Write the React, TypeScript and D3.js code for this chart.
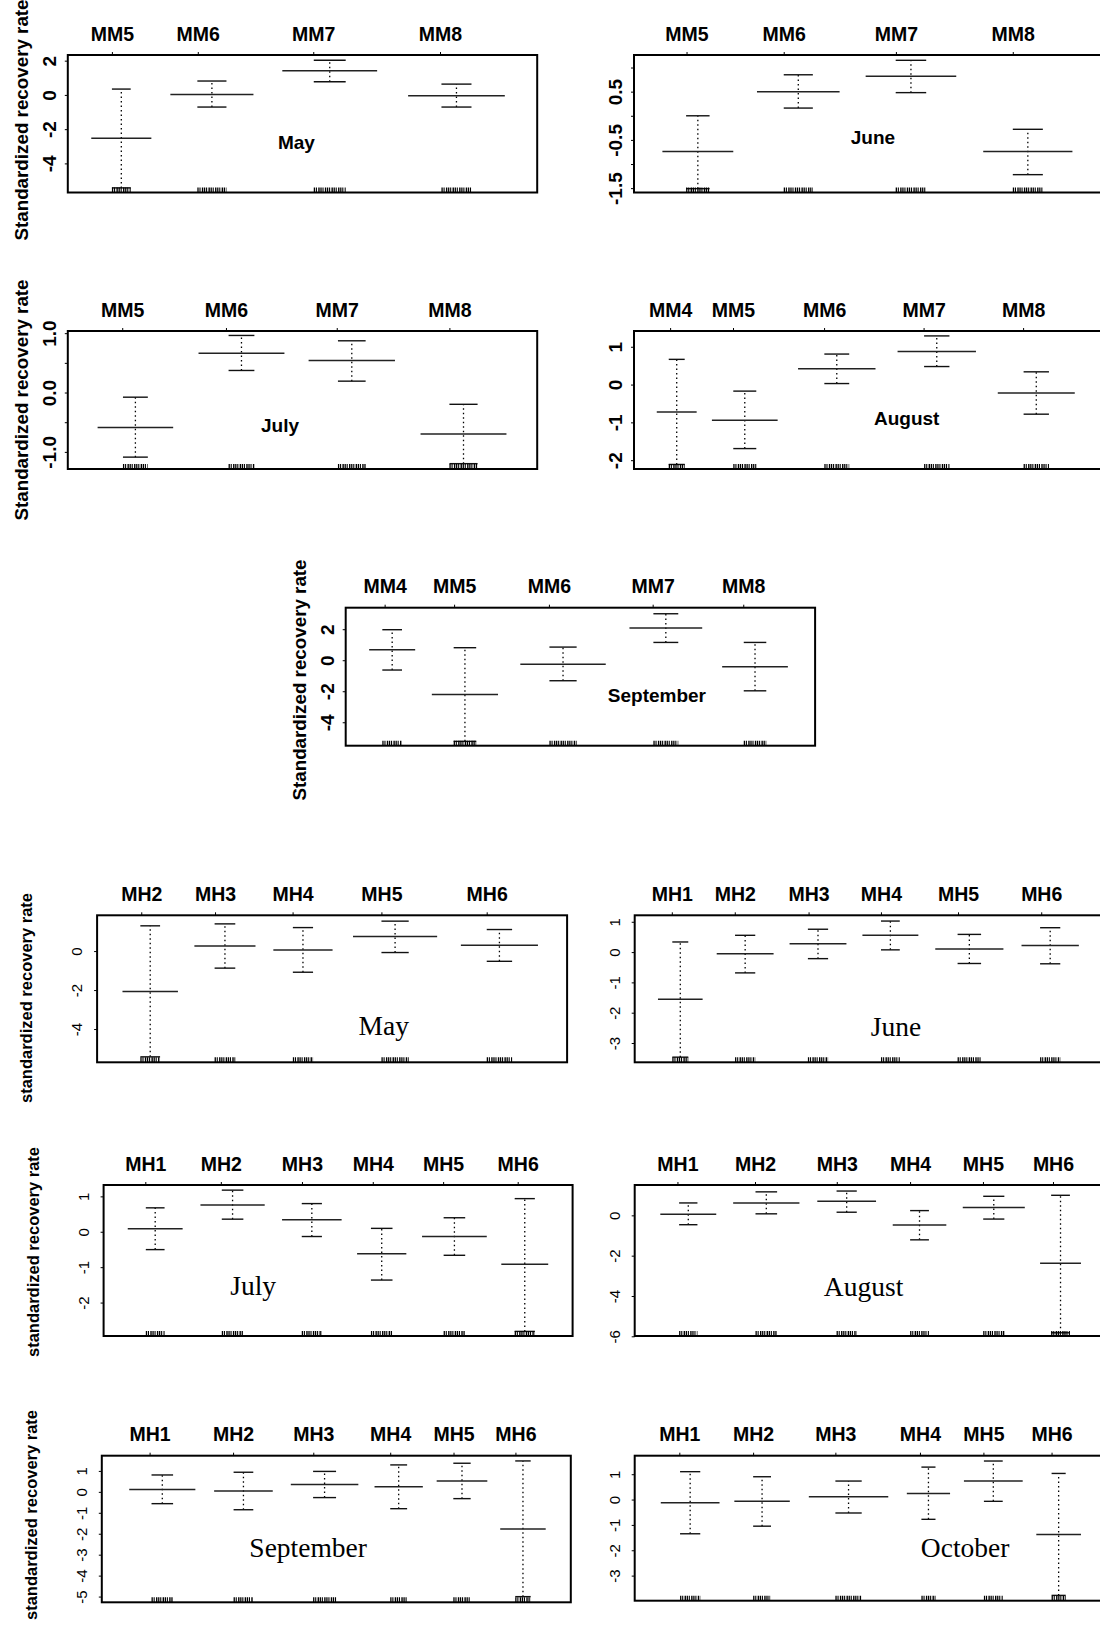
import React from "react";
import * as d3 from "d3";

// ---------- MM series ----------
const mmMayCats = ["MM5", "MM6", "MM7", "MM8"];
const mmMayTick = [9.5, 27.8, 52.4, 79.4];
const mmMayCenter = [11.4, 30.7, 55.8, 82.8];
const mmMayCap = [4.0, 6.2, 6.8, 6.4];
const mmMayMedW = [12.8, 17.7, 20.2, 20.6];
const mmMayLow = [-5.4, -0.68, 0.8, -0.68];
const mmMayMid = [-2.5, 0.06, 1.44, -0.02];
const mmMayHigh = [0.37, 0.84, 2.05, 0.66];
const mmMayDomain = [-5.67, 2.36];
const mmMayTicks = [-4, -2, 0, 2];
const mmMayLabels = [-4, -2, 0, 2];

const mmJunCats = ["MM5", "MM6", "MM7", "MM8"];
const mmJunTick = [11.3, 32.0, 55.9, 80.8];
const mmJunCenter = [13.6, 35.0, 59.0, 83.9];
const mmJunCap = [5.0, 6.2, 6.5, 6.4];
const mmJunMedW = [15.1, 17.6, 19.3, 19.0];
const mmJunLow = [-1.5, 0.17, 0.49, -1.21];
const mmJunMid = [-0.73, 0.51, 0.83, -0.73];
const mmJunHigh = [0.01, 0.86, 1.16, -0.27];
const mmJunDomain = [-1.58, 1.27];
const mmJunTicks = [-1.5, -1, -0.5, 0, 0.5, 1];
const mmJunLabels = [-1.5, -0.5, 0.5];

const mmJulCats = ["MM5", "MM6", "MM7", "MM8"];
const mmJulTick = [11.7, 33.8, 57.4, 81.4];
const mmJulCenter = [14.4, 37.0, 60.5, 84.3];
const mmJulCap = [5.3, 5.5, 5.9, 6.0];
const mmJulMedW = [16.1, 18.3, 18.4, 18.3];
const mmJulLow = [-1.08, 0.38, 0.2, -1.19];
const mmJulMid = [-0.58, 0.67, 0.55, -0.69];
const mmJulHigh = [-0.07, 0.97, 0.88, -0.19];
const mmJulDomain = [-1.28, 1.045];
const mmJulTicks = [-1, -0.5, 0, 0.5, 1];
const mmJulLabels = [-1, 0, 1];

const mmAugCats = ["MM4", "MM5", "MM6", "MM7", "MM8"];
const mmAugTick = [7.8, 21.2, 40.6, 61.8, 83.0];
const mmAugCenter = [9.1, 23.6, 43.2, 64.5, 85.7];
const mmAugCap = [3.4, 4.9, 5.3, 5.4, 5.4];
const mmAugMedW = [8.5, 14.0, 16.5, 16.7, 16.4];
const mmAugLow = [-2.1, -1.68, 0.04, 0.49, -0.77];
const mmAugMid = [-0.71, -0.93, 0.43, 0.89, -0.21];
const mmAugHigh = [0.68, -0.16, 0.82, 1.3, 0.35];
const mmAugDomain = [-2.22, 1.43];
const mmAugTicks = [-2, -1, 0, 1];
const mmAugLabels = [-2, -1, 0, 1];

const mmSepCats = ["MM4", "MM5", "MM6", "MM7", "MM8"];
const mmSepTick = [8.4, 23.2, 43.4, 65.5, 84.8];
const mmSepCenter = [9.9, 25.4, 46.3, 68.2, 87.2];
const mmSepCap = [4.2, 4.8, 5.8, 5.3, 4.8];
const mmSepMedW = [9.8, 14.1, 18.2, 15.5, 14.0];
const mmSepLow = [-0.6, -5.2, -1.29, 1.18, -1.94];
const mmSepMid = [0.71, -2.17, -0.22, 2.11, -0.39];
const mmSepHigh = [2.0, 0.84, 0.88, 3.03, 1.18];
const mmSepDomain = [-5.48, 3.42];
const mmSepTicks = [-4, -2, 0, 2];
const mmSepLabels = [-4, -2, 0, 2];

// ---------- MH series ----------
const mhMayCats = ["MH2", "MH3", "MH4", "MH5", "MH6"];
const mhMayTick = [9.5, 25.2, 41.7, 60.6, 83.0];
const mhMayCenter = [11.3, 27.2, 43.8, 63.4, 85.6];
const mhMayCap = [4.2, 4.4, 4.3, 5.8, 5.4];
const mhMayMedW = [11.8, 13.0, 12.6, 17.9, 16.4];
const mhMayLow = [-5.4, -0.85, -1.06, -0.05, -0.5];
const mhMayMid = [-2.05, 0.29, 0.085, 0.77, 0.32];
const mhMayHigh = [1.32, 1.42, 1.23, 1.56, 1.13];
const mhMayDomain = [-5.68, 1.86];
const mhMayTicks = [-4, -2, 0];
const mhMayLabels = [-4, -2, 0];

const mhJunCats = ["MH1", "MH2", "MH3", "MH4", "MH5", "MH6"];
const mhJunTick = [8.0, 21.4, 37.1, 52.5, 68.9, 86.6];
const mhJunCenter = [9.7, 23.5, 39.0, 54.4, 71.2, 88.4];
const mhJunCap = [3.4, 4.3, 4.3, 4.0, 5.0, 4.3];
const mhJunMedW = [9.5, 12.1, 12.1, 11.9, 14.5, 12.2];
const mhJunLow = [-3.45, -0.67, -0.2, 0.09, -0.36, -0.37];
const mhJunMid = [-1.54, -0.04, 0.29, 0.57, 0.12, 0.23];
const mhJunHigh = [0.35, 0.57, 0.77, 1.04, 0.6, 0.82];
const mhJunDomain = [-3.62, 1.23];
const mhJunTicks = [-3, -2, -1, 0, 1];
const mhJunLabels = [-3, -2, -1, 0, 1];

const mhJulCats = ["MH1", "MH2", "MH3", "MH4", "MH5", "MH6"];
const mhJulTick = [9.0, 25.1, 42.4, 57.5, 72.5, 88.4];
const mhJulCenter = [11.0, 27.5, 44.4, 59.3, 74.8, 89.8];
const mhJulCap = [4.0, 4.6, 4.3, 4.6, 4.6, 4.3];
const mhJulMedW = [11.7, 13.7, 12.7, 10.5, 13.8, 10.0];
const mhJulLow = [-0.49, 0.37, -0.12, -1.35, -0.65, -2.8];
const mhJulMid = [0.1, 0.77, 0.35, -0.61, -0.12, -0.9];
const mhJulHigh = [0.69, 1.19, 0.81, 0.11, 0.41, 0.95];
const mhJulDomain = [-2.93, 1.335];
const mhJulTicks = [-2, -1, 0, 1];
const mhJulLabels = [-2, -1, 0, 1];

const mhAugCats = ["MH1", "MH2", "MH3", "MH4", "MH5", "MH6"];
const mhAugTick = [9.2, 25.7, 43.1, 58.7, 74.2, 89.1];
const mhAugCenter = [11.4, 28.0, 45.1, 60.6, 76.4, 90.6];
const mhAugCap = [3.9, 4.6, 4.3, 4.0, 4.5, 4.0];
const mhAugMedW = [11.9, 14.1, 12.5, 11.4, 13.2, 8.7];
const mhAugLow = [-0.44, 0.1, 0.18, -1.19, -0.16, -5.8];
const mhAugMid = [0.08, 0.64, 0.72, -0.46, 0.41, -2.35];
const mhAugHigh = [0.64, 1.19, 1.23, 0.26, 0.97, 1.02];
const mhAugDomain = [-5.96, 1.53];
const mhAugTicks = [-6, -4, -2, 0];
const mhAugLabels = [-6, -4, -2, 0];

const mhSepCats = ["MH1", "MH2", "MH3", "MH4", "MH5", "MH6"];
const mhSepTick = [10.3, 28.1, 45.2, 61.6, 75.1, 88.3];
const mhSepCenter = [12.9, 30.2, 47.5, 63.3, 76.8, 89.8];
const mhSepCap = [4.6, 4.2, 4.9, 3.6, 3.7, 3.3];
const mhSepMedW = [14.1, 12.5, 14.4, 10.3, 10.8, 9.7];
const mhSepLow = [-0.54, -0.83, -0.25, -0.78, -0.3, -4.98];
const mhSepMid = [0.14, 0.06, 0.37, 0.27, 0.54, -1.75];
const mhSepHigh = [0.83, 0.96, 1.0, 1.31, 1.39, 1.5];
const mhSepDomain = [-5.25, 1.75];
const mhSepTicks = [-5, -4, -3, -2, -1, 0, 1];
const mhSepLabels = [-5, -4, -3, -2, -1, 0, 1];

const mhOctCats = ["MH1", "MH2", "MH3", "MH4", "MH5", "MH6"];
const mhOctTick = [9.6, 25.3, 42.8, 60.8, 74.3, 88.8];
const mhOctCenter = [11.8, 27.1, 45.5, 62.5, 76.3, 90.2];
const mhOctCap = [4.3, 3.8, 5.6, 3.0, 4.0, 3.0];
const mhOctMedW = [12.5, 11.8, 16.9, 9.2, 12.5, 9.5];
const mhOctLow = [-1.33, -1.03, -0.51, -0.76, -0.05, -3.76];
const mhOctMid = [-0.11, -0.05, 0.13, 0.26, 0.75, -1.36];
const mhOctHigh = [1.12, 0.92, 0.75, 1.3, 1.54, 1.05];
const mhOctDomain = [-3.97, 1.75];
const mhOctTicks = [-3, -2, -1, 0, 1];
const mhOctLabels = [-3, -2, -1, 0, 1];

const SANS = "'Liberation Sans', Arial, Helvetica, sans-serif";
const SERIF = "'Liberation Serif', 'Times New Roman', Times, serif";

type PanelData = {
  kind: "MM" | "MH";
  month: string;
  cats: string[];
  tick: number[];
  center: number[];
  cap: number[];
  medW: number[];
  low: number[];
  mid: number[];
  high: number[];
  domain: number[];
  ticks: number[];
  labels: number[];
  fmt: string;
};

const panels: PanelData[] = [
  { kind: "MM", month: "May", cats: mmMayCats, tick: mmMayTick, center: mmMayCenter, cap: mmMayCap, medW: mmMayMedW, low: mmMayLow, mid: mmMayMid, high: mmMayHigh, domain: mmMayDomain, ticks: mmMayTicks, labels: mmMayLabels, fmt: "d" },
  { kind: "MM", month: "June", cats: mmJunCats, tick: mmJunTick, center: mmJunCenter, cap: mmJunCap, medW: mmJunMedW, low: mmJunLow, mid: mmJunMid, high: mmJunHigh, domain: mmJunDomain, ticks: mmJunTicks, labels: mmJunLabels, fmt: ".1f" },
  { kind: "MM", month: "July", cats: mmJulCats, tick: mmJulTick, center: mmJulCenter, cap: mmJulCap, medW: mmJulMedW, low: mmJulLow, mid: mmJulMid, high: mmJulHigh, domain: mmJulDomain, ticks: mmJulTicks, labels: mmJulLabels, fmt: ".1f" },
  { kind: "MM", month: "August", cats: mmAugCats, tick: mmAugTick, center: mmAugCenter, cap: mmAugCap, medW: mmAugMedW, low: mmAugLow, mid: mmAugMid, high: mmAugHigh, domain: mmAugDomain, ticks: mmAugTicks, labels: mmAugLabels, fmt: "d" },
  { kind: "MM", month: "September", cats: mmSepCats, tick: mmSepTick, center: mmSepCenter, cap: mmSepCap, medW: mmSepMedW, low: mmSepLow, mid: mmSepMid, high: mmSepHigh, domain: mmSepDomain, ticks: mmSepTicks, labels: mmSepLabels, fmt: "d" },
  { kind: "MH", month: "May", cats: mhMayCats, tick: mhMayTick, center: mhMayCenter, cap: mhMayCap, medW: mhMayMedW, low: mhMayLow, mid: mhMayMid, high: mhMayHigh, domain: mhMayDomain, ticks: mhMayTicks, labels: mhMayLabels, fmt: "d" },
  { kind: "MH", month: "June", cats: mhJunCats, tick: mhJunTick, center: mhJunCenter, cap: mhJunCap, medW: mhJunMedW, low: mhJunLow, mid: mhJunMid, high: mhJunHigh, domain: mhJunDomain, ticks: mhJunTicks, labels: mhJunLabels, fmt: "d" },
  { kind: "MH", month: "July", cats: mhJulCats, tick: mhJulTick, center: mhJulCenter, cap: mhJulCap, medW: mhJulMedW, low: mhJulLow, mid: mhJulMid, high: mhJulHigh, domain: mhJulDomain, ticks: mhJulTicks, labels: mhJulLabels, fmt: "d" },
  { kind: "MH", month: "August", cats: mhAugCats, tick: mhAugTick, center: mhAugCenter, cap: mhAugCap, medW: mhAugMedW, low: mhAugLow, mid: mhAugMid, high: mhAugHigh, domain: mhAugDomain, ticks: mhAugTicks, labels: mhAugLabels, fmt: "d" },
  { kind: "MH", month: "September", cats: mhSepCats, tick: mhSepTick, center: mhSepCenter, cap: mhSepCap, medW: mhSepMedW, low: mhSepLow, mid: mhSepMid, high: mhSepHigh, domain: mhSepDomain, ticks: mhSepTicks, labels: mhSepLabels, fmt: "d" },
  { kind: "MH", month: "October", cats: mhOctCats, tick: mhOctTick, center: mhOctCenter, cap: mhOctCap, medW: mhOctMedW, low: mhOctLow, mid: mhOctMid, high: mhOctHigh, domain: mhOctDomain, ticks: mhOctTicks, labels: mhOctLabels, fmt: "d" },
];

// layout: frame box, month label position (fraction of frame), y-title centre (null = none)
type Layout = { L: number; T: number; W: number; H: number; mx: number; my: number; titleY: number | null };
const layouts: Layout[] = [
  { L: 67.8, T: 55, W: 469.4, H: 137.5, mx: 0.487, my: 0.68, titleY: 120 },
  { L: 634, T: 55, W: 469.4, H: 137.5, mx: 0.509, my: 0.648, titleY: null },
  { L: 67.8, T: 331, W: 469.4, H: 138, mx: 0.452, my: 0.734, titleY: 400 },
  { L: 634, T: 331, W: 469.4, H: 138, mx: 0.581, my: 0.681, titleY: null },
  { L: 345.7, T: 607.7, W: 469.4, H: 138, mx: 0.663, my: 0.681, titleY: 680 },
  { L: 97.1, T: 915.3, W: 470, H: 147, mx: 0.61, my: 0.814, titleY: 998 },
  { L: 634.7, T: 915.3, W: 470, H: 147, mx: 0.556, my: 0.823, titleY: null },
  { L: 103.6, T: 1185, W: 469, H: 151, mx: 0.319, my: 0.73, titleY: 1252 },
  { L: 634.7, T: 1185, W: 470, H: 151, mx: 0.487, my: 0.736, titleY: null },
  { L: 101.8, T: 1455.7, W: 469, H: 146.6, mx: 0.44, my: 0.689, titleY: 1515 },
  { L: 634.7, T: 1455.7, W: 470, H: 145, mx: 0.703, my: 0.697, titleY: null },
];

function Panel({ p, lay }: { p: PanelData; lay: Layout }) {
  const { L, T, W, H } = lay;
  const x = d3.scaleLinear().domain([0, 100]).range([L, L + W]);
  const y = d3.scaleLinear().domain(p.domain).range([T + H, T]);
  const f = d3.format(p.fmt);
  const fmt = (v: number) => f(v).replace("\u2212", "-");
  const mm = p.kind === "MM";
  const tickLabelOff = mm ? 12 : 15;
  const titleOff = mm ? 40 : 65;
  const bottom = T + H;
  return (
    <g>
      {lay.titleY !== null && (
        <text
          transform={`translate(${L - titleOff},${lay.titleY}) rotate(-90)`}
          textAnchor="middle"
          fontFamily={SANS}
          fontWeight="bold"
          fontSize={mm ? 18.8 : 16.5}
        >
          {mm ? "Standardized recovery rate" : "standardized recovery rate"}
        </text>
      )}
      {p.cats.map((c, i) => (
        <g key={"c" + i}>
          <line x1={x(p.tick[i])} x2={x(p.tick[i])} y1={T} y2={T - 3} stroke="#000" strokeWidth={1} />
          <text x={x(p.tick[i])} y={T - 14.5} textAnchor="middle" fontFamily={SANS} fontWeight="bold" fontSize={19.5}>
            {c}
          </text>
        </g>
      ))}
      {p.ticks.map((v, i) => (
        <line key={"t" + i} x1={L} x2={L - 3} y1={y(v)} y2={y(v)} stroke="#000" strokeWidth={1} />
      ))}
      {p.labels.map((v, i) => (
        <text
          key={"l" + i}
          transform={`translate(${L - tickLabelOff},${y(v)}) rotate(-90)`}
          textAnchor="middle"
          fontFamily={SANS}
          fontWeight={mm ? "bold" : "normal"}
          fontSize={mm ? 19 : 15}
        >
          {fmt(v)}
        </text>
      ))}
      {p.cats.map((c, i) => {
        const cx = x(p.center[i]);
        const c0 = x(p.center[i] - p.cap[i] / 2);
        const c1 = x(p.center[i] + p.cap[i] / 2);
        const m0 = x(p.center[i] - p.medW[i] / 2);
        const m1 = x(p.center[i] + p.medW[i] / 2);
        return (
          <g key={"g" + i}>
            <line x1={cx} x2={cx} y1={y(p.low[i])} y2={y(p.high[i])} stroke="#000" strokeWidth={1.3} strokeDasharray="1.5 3" />
            <line x1={c0} x2={c1} y1={y(p.high[i])} y2={y(p.high[i])} stroke="#111" strokeWidth={1.4} />
            <line x1={c0} x2={c1} y1={y(p.low[i])} y2={y(p.low[i])} stroke="#111" strokeWidth={1.4} />
            <line x1={m0} x2={m1} y1={y(p.mid[i])} y2={y(p.mid[i])} stroke="#222" strokeWidth={1.5} />
            <line x1={c0} x2={c1} y1={bottom - 2.5} y2={bottom - 2.5} stroke="#000" strokeWidth={5} strokeDasharray="1.3 0.8 1.1 1.3 1.4 0.7" />
          </g>
        );
      })}
      <rect x={L} y={T} width={W} height={H} fill="none" stroke="#000" strokeWidth={2} />
      <text
        x={L + lay.mx * W}
        y={T + lay.my * H}
        textAnchor="middle"
        fontFamily={mm ? SANS : SERIF}
        fontWeight={mm ? "bold" : "normal"}
        fontSize={mm ? 19 : 27.5}
      >
        {p.month}
      </text>
    </g>
  );
}

export default function App() {
  return (
    <svg
      width={1100}
      height={1625}
      viewBox="0 0 1100 1625"
      style={{ position: "absolute", left: 0, top: 0, background: "#fff", display: "block" }}
    >
      <rect x={0} y={0} width={1100} height={1625} fill="#fff" />
      {panels.map((p, i) => (
        <Panel key={i} p={p} lay={layouts[i]} />
      ))}
    </svg>
  );
}
